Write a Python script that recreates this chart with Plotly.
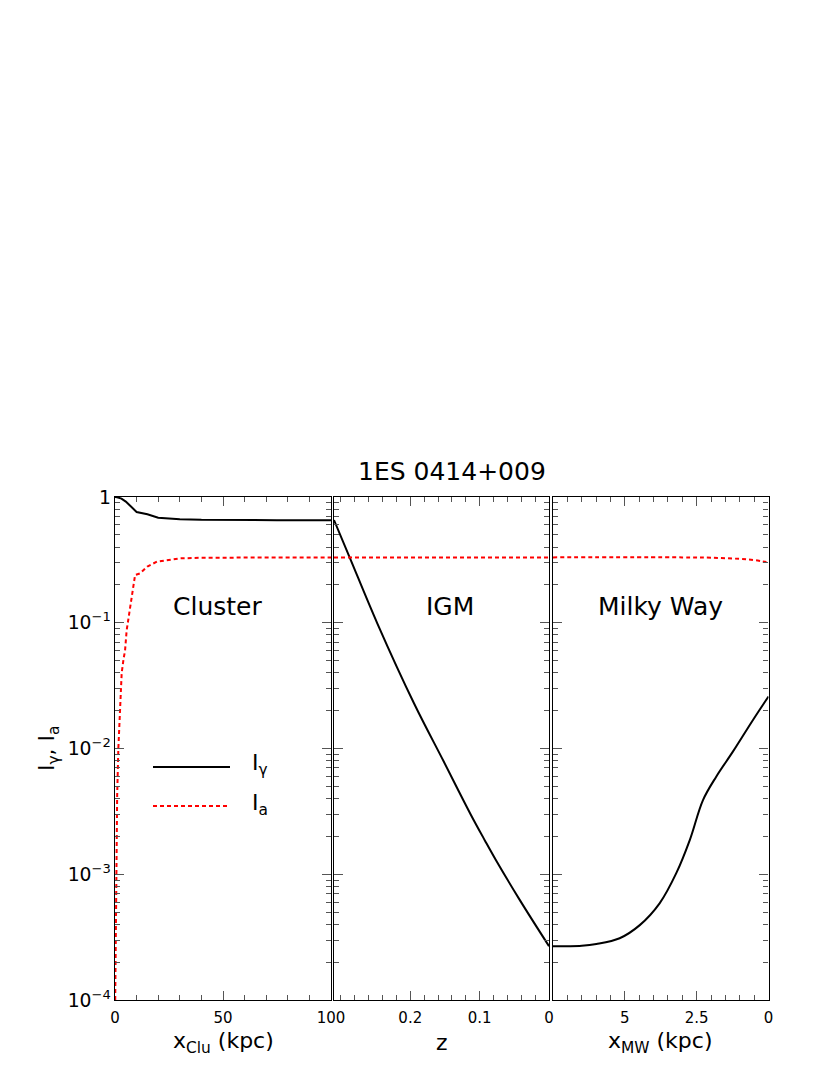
import plotly.graph_objects as go

# Cluster panel, x in kpc
clu_x_g = [0, 1, 3, 5, 8, 10, 15, 20, 25, 30, 40, 50, 75, 100]
clu_i_g = [1.0, 0.995, 0.97, 0.92, 0.82, 0.76, 0.73, 0.685, 0.675, 0.665, 0.658, 0.655, 0.654, 0.654]
clu_x_a = [0.1, 0.2, 0.3, 0.5, 0.8, 1.0, 1.55, 2.0, 3.1, 4.0, 4.65, 5.4, 6.5, 7.7, 8.5, 9.3, 11.6, 15, 19.4, 25, 30, 40, 60, 100]
clu_i_a = [1.0e-4, 1.7e-4, 3.8e-4, 1.05e-3, 2.7e-3, 4.2e-3, 0.01, 0.0167, 0.04, 0.052, 0.06, 0.087, 0.115, 0.15, 0.19, 0.24, 0.247, 0.28, 0.306, 0.318, 0.325, 0.329, 0.331, 0.331]

# IGM panel, x is redshift z
igm_z = [0.31, 0.287, 0.2476, 0.1947, 0.1514, 0.1129, 0.0923, 0.076, 0.0418, 0.0]
igm_i_g = [0.656, 0.327, 0.099, 0.0229, 0.0078, 0.00299, 0.00185, 0.00128, 0.00062, 0.000268]
igm_z_a = [0.31, 0.0]
igm_i_a = [0.331, 0.331]

# Milky Way panel, x in kpc
mw_x = [7.5, 7.0, 6.5, 5.99, 5.18, 4.48, 3.79, 3.21, 2.74, 2.28, 1.82, 1.24, 0.54, 0.0]
mw_i_g = [0.000268, 0.000268, 0.000270, 0.000279, 0.000310, 0.000394, 0.000587, 0.00102, 0.00187, 0.00389, 0.00597, 0.00944, 0.01687, 0.0259]
mw_x_a = [7.5, 3.0, 2.0, 1.0, 0.5, 0.2, 0.0]
mw_i_a = [0.331, 0.331, 0.329, 0.322, 0.315, 0.307, 0.302]

# tick values for each panel
clu_ticks = [0, 50, 100]
igm_ticks = [0.2, 0.1, 0]
mw_ticks = [5, 2.5, 0]

FONT = "DejaVu Sans"
W, H = 830, 1075
OFF = 8  # page body margin


def px(x):
    return (x - OFF) / W


def py(y):
    return 1 - (y - OFF) / H


fig = go.Figure()

gline = dict(color="black", width=2)
aline = dict(color="red", width=2, dash="4px,3px")

fig.add_trace(go.Scatter(x=clu_x_g, y=clu_i_g, mode="lines", line=gline, xaxis="x", yaxis="y"))
fig.add_trace(go.Scatter(x=clu_x_a, y=clu_i_a, mode="lines", line=aline, xaxis="x", yaxis="y"))
fig.add_trace(go.Scatter(x=igm_z, y=igm_i_g, mode="lines", line=gline, line_shape="spline", xaxis="x2", yaxis="y2"))
fig.add_trace(go.Scatter(x=igm_z_a, y=igm_i_a, mode="lines", line=aline, xaxis="x2", yaxis="y2"))
fig.add_trace(go.Scatter(x=mw_x, y=mw_i_g, mode="lines", line=gline, line_shape="spline", xaxis="x3", yaxis="y3"))
fig.add_trace(go.Scatter(x=mw_x_a, y=mw_i_a, mode="lines", line=aline, line_shape="spline", xaxis="x3", yaxis="y3"))

# panel edges in pixels
doms = [(115, 331), (334, 549), (553, 768.5)]
ytop, ybot = 497, 1000
ydom = [py(ybot), py(ytop)]

tickfont = dict(family=FONT, size=15, color="black")
common = dict(showline=True, linecolor="black", linewidth=1.3, mirror="ticks",
              ticks="inside", ticklen=9, tickcolor="#555", tickwidth=1.3,
              showgrid=False, zeroline=False, tickfont=tickfont, automargin=False)

xspecs = [
    dict(range=[0, 100], tickvals=clu_ticks, minor=dict(dtick=10, ticks="inside", ticklen=5, tickcolor="#555")),
    dict(range=[0.31, 0], tickvals=igm_ticks, minor=dict(dtick=0.02, ticks="inside", ticklen=5, tickcolor="#555")),
    dict(range=[7.5, 0], tickvals=mw_ticks, minor=dict(dtick=0.5, ticks="inside", ticklen=5, tickcolor="#555")),
]
xtitles = ["x<sub>Clu</sub> (kpc)", "z", "x<sub>MW</sub> (kpc)"]

for i, ((a, b), spec) in enumerate(zip(doms, xspecs)):
    sfx = "" if i == 0 else str(i + 1)
    fig.update_layout(**{
        "xaxis" + sfx: dict(domain=[px(a), px(b)], anchor="y" + sfx, tickmode="array",
                            ticklabelstandoff=4, **spec, **common),
        "yaxis" + sfx: dict(domain=ydom, anchor="x" + sfx, type="log", range=[-4, 0], dtick=1,
                            exponentformat="power", showticklabels=(i == 0),
                            minor=dict(ticks="inside", ticklen=5, tickcolor="#555"),
                            **common),
    })

titlefont = dict(family=FONT, size=22, color="black")
for i, ttl in enumerate(xtitles):
    sfx = "" if i == 0 else str(i + 1)
    fig.add_annotation(text=ttl, xref="x" + sfx + " domain", yref="paper", x=0.5, y=py(1042),
                       xanchor="center", yanchor="middle", showarrow=False, font=titlefont)

fig.add_annotation(text="I<sub>γ</sub>, I<sub>a</sub>", xref="paper", yref="paper",
                   x=px(48), y=py(748), xanchor="center", yanchor="middle",
                   textangle=-90, showarrow=False, font=titlefont)

# panel labels
label_x = [218, 450, 660]
for i, lab in enumerate(["Cluster", "IGM", "Milky Way"]):
    fig.add_annotation(text=lab, xref="paper", yref="paper", x=px(label_x[i]), y=py(606),
                       xanchor="center", yanchor="middle", showarrow=False,
                       font=dict(family=FONT, size=25, color="black"))

fig.add_annotation(text="1ES 0414+009", xref="paper", yref="paper", x=px(452), y=py(471),
                   xanchor="center", yanchor="middle", showarrow=False,
                   font=dict(family=FONT, size=25, color="black"))

# legend drawn inside the cluster panel
fig.add_shape(type="line", xref="paper", yref="paper", x0=px(153), x1=px(230),
              y0=py(767), y1=py(767), line=gline)
fig.add_shape(type="line", xref="paper", yref="paper", x0=px(153), x1=px(228),
              y0=py(806), y1=py(806), line=aline)
fig.add_annotation(text="I<sub>γ</sub>", xref="paper", yref="paper", x=px(250), y=py(764),
                   xanchor="left", yanchor="middle", showarrow=False, font=titlefont)
fig.add_annotation(text="I<sub>a</sub>", xref="paper", yref="paper", x=px(250), y=py(804),
                   xanchor="left", yanchor="middle", showarrow=False, font=titlefont)

fig.update_layout(width=W, height=H, margin=dict(l=0, r=0, t=0, b=0, autoexpand=False),
                  paper_bgcolor="white", plot_bgcolor="white", showlegend=False)

fig.write_html("out.html")
